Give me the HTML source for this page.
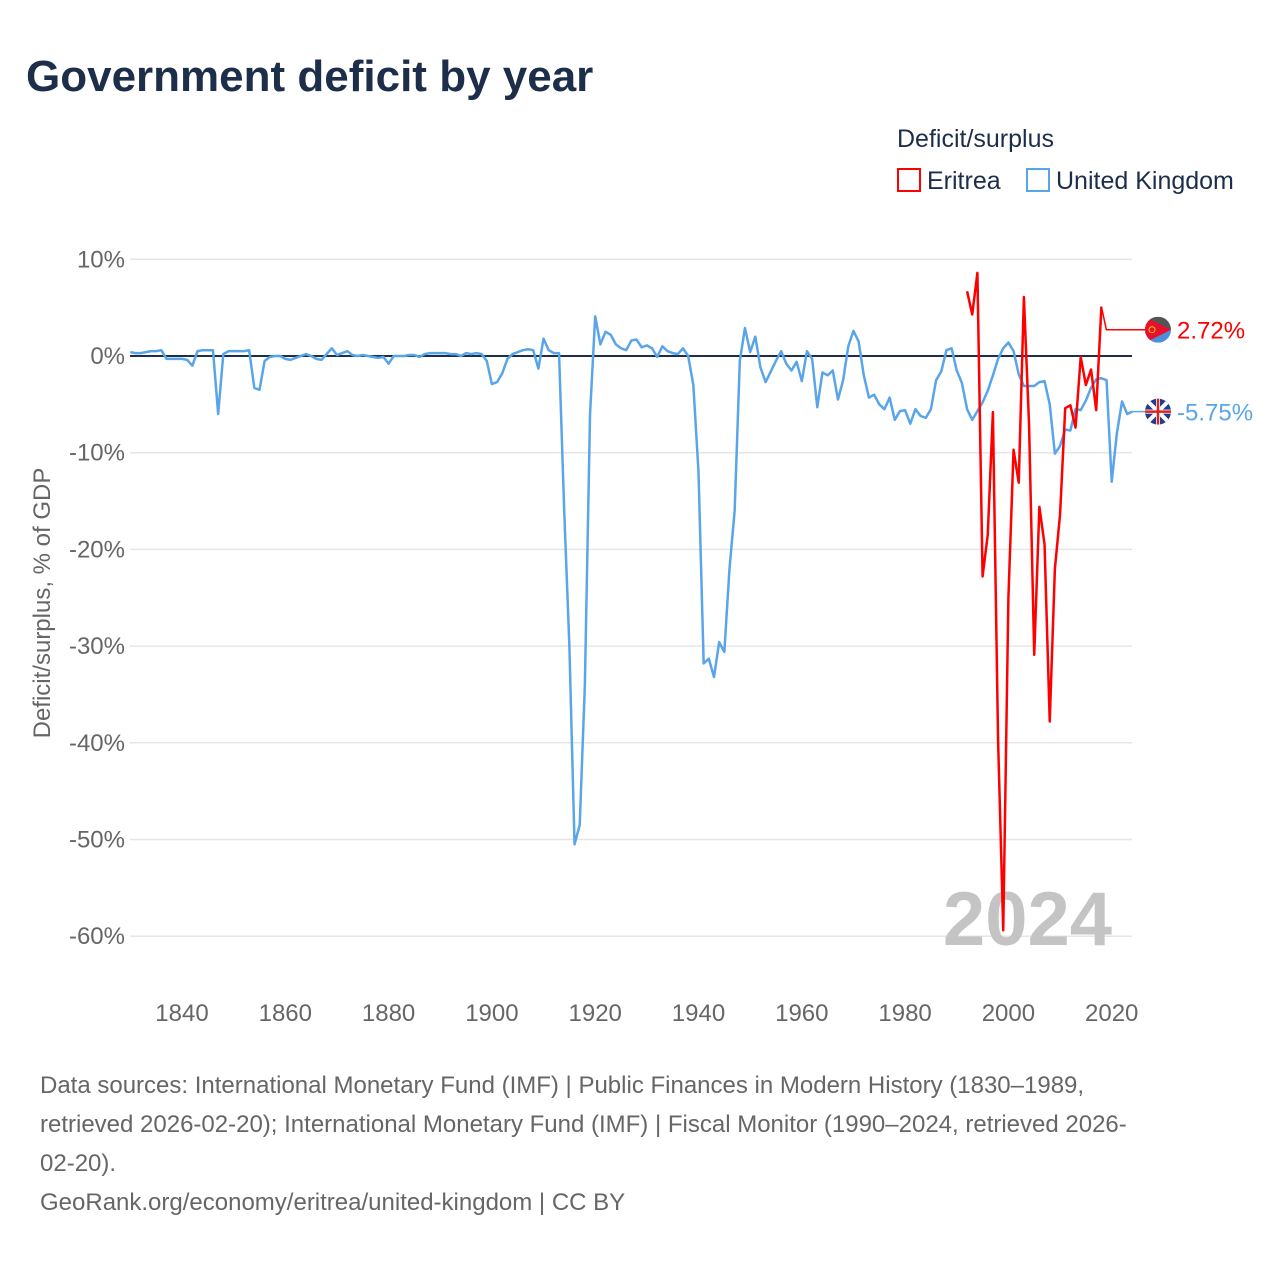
<!DOCTYPE html>
<html><head><meta charset="utf-8"><style>
body{margin:0;background:#fff;font-family:"Liberation Sans",sans-serif;}
#wrap{position:relative;width:1280px;height:1280px;overflow:hidden;}
.t{position:absolute;white-space:nowrap;}
</style></head><body>
<div id="wrap">
<div class="t" style="left:26px;top:52px;font-size:44px;font-weight:bold;color:#1d2e4a;">Government deficit by year</div>
<div class="t" style="left:897px;top:125px;font-size:25px;color:#1d2e4a;">Deficit/surplus</div>
<div class="t" style="left:897px;top:167px;font-size:25px;color:#1d2e4a;"><span style="display:inline-block;border:2px solid #f00;vertical-align:-3px;margin-right:6px;box-sizing:border-box;width:24px;height:24px"></span>Eritrea</div>
<div class="t" style="left:1026px;top:167px;font-size:25px;color:#1d2e4a;"><span style="display:inline-block;border:2px solid #5aa5ea;vertical-align:-3px;margin-right:6px;box-sizing:border-box;width:24px;height:24px"></span>United Kingdom</div>
<svg id="chart" width="1280" height="1280" style="position:absolute;left:0;top:0"></svg>
<div class="t" style="left:40px;top:1066px;font-size:24px;line-height:39px;color:#666;">Data sources: International Monetary Fund (IMF) | Public Finances in Modern History (1830–1989,<br>retrieved 2026-02-20); International Monetary Fund (IMF) | Fiscal Monitor (1990–2024, retrieved 2026-<br>02-20).<br>GeoRank.org/economy/eritrea/united-kingdom | CC BY</div>
</div>
<script>
const ukStart = 1830;
const ukValues = [0.4,0.3,0.3,0.4,0.5,0.5,0.6,-0.3,-0.3,-0.3,-0.3,-0.4,-1.0,0.5,0.6,0.6,0.6,-6.0,0.2,0.5,0.5,0.5,0.5,0.6,-3.3,-3.5,-0.5,-0.1,0,0,-0.3,-0.4,-0.2,0,0.2,0,-0.3,-0.4,0.2,0.8,0.1,0.3,0.5,0.1,0,0.1,0,-0.1,-0.2,-0.1,-0.8,0,0,0,0.1,0.1,-0.1,0.2,0.3,0.3,0.3,0.3,0.2,0.2,0,0.3,0.2,0.3,0.2,-0.5,-2.9,-2.7,-1.8,-0.3,0.2,0.4,0.6,0.7,0.6,-1.3,1.8,0.6,0.3,0.3,-16,-30,-50.5,-48.5,-34,-6,4.1,1.2,2.5,2.2,1.2,0.8,0.6,1.6,1.7,0.9,1.1,0.8,-0.1,1.0,0.5,0.3,0.2,0.8,0,-3,-12,-31.8,-31.3,-33.2,-29.6,-30.6,-22,-16,-0.5,2.9,0.4,2,-1.2,-2.7,-1.6,-0.5,0.5,-0.8,-1.5,-0.6,-2.6,0.5,-0.3,-5.3,-1.7,-2,-1.5,-4.5,-2.5,1,2.6,1.5,-2,-4.3,-4,-5,-5.5,-4.3,-6.6,-5.7,-5.6,-7,-5.5,-6.2,-6.4,-5.5,-2.5,-1.6,0.6,0.8,-1.5,-2.8,-5.5,-6.6,-5.7,-4.8,-3.6,-2,-0.3,0.8,1.4,0.5,-1.9,-3.1,-3.1,-3.1,-2.7,-2.6,-5,-10.1,-9.3,-7.6,-7.7,-5.5,-5.6,-4.6,-3.3,-2.4,-2.3,-2.5,-13,-8,-4.7,-6,-5.75];
const erStart = 1992;
const erValues = [6.7,4.3,8.6,-22.8,-18.5,-5.8,-39.7,-59.4,-25,-9.7,-13.1,6.1,-7.1,-30.9,-15.6,-19.5,-37.8,-22,-16.4,-5.4,-5.1,-7.4,-0.1,-3,-1.4,-5.6,5.1,2.72];
const yTicks = [10,0,-10,-20,-30,-40,-50,-60];
const xTicks = [1840,1860,1880,1900,1920,1940,1960,1980,2000,2020];
const ukLast = "-5.75%", erLast = "2.72%";

const svg=document.getElementById('chart');const NS='http://www.w3.org/2000/svg';
const X0=130,X1=1132,Y0=356,PY=9.67;
const xs=y=>182+(y-1840)*5.165;
const ys=v=>Y0-v*PY;
function mk(t,a,p){const e=document.createElementNS(NS,t);for(const k in a)e.setAttribute(k,a[k]);(p||svg).appendChild(e);return e;}
yTicks.forEach(v=>{
 const l=mk('line',{x1:X0,x2:X1,y1:ys(v),y2:ys(v),stroke:v===0?'#1d2e4a':'#e6e6e6','stroke-width':v===0?2:1.5});
 
 
 const t=mk('text',{x:125,y:ys(v)+8,'text-anchor':'end','font-size':24,fill:'#666','font-family':'Liberation Sans, sans-serif'});
 t.textContent=v+'%';
 
 
});
xTicks.forEach(y=>{
 const t=mk('text',{x:xs(y),y:1021,'text-anchor':'middle','font-size':24,fill:'#666','font-family':'Liberation Sans, sans-serif'});
 t.textContent=y;
 
 
});
const yt=mk('text',{x:0,y:0,transform:'translate(50,603) rotate(-90)','text-anchor':'middle','font-size':24,fill:'#666','font-family':'Liberation Sans, sans-serif'});
yt.textContent='Deficit/surplus, % of GDP';


const yr=mk('text',{x:1112,y:945,'text-anchor':'end','font-size':76,'font-weight':'bold',fill:'#c4c4c4','font-family':'Liberation Sans, sans-serif'});
yr.textContent='2024';


const ukP=mk('polyline',{points:ukValues.map((v,i)=>xs(ukStart+i)+','+ys(v)).join(' '),fill:'none',stroke:'#5aa5ea','stroke-width':2.5,'stroke-linejoin':'round'});


const erMain=erValues.slice(0,erValues.length-1);
const erP=mk('polyline',{points:erMain.map((v,i)=>xs(erStart+i)+','+ys(v)).join(' '),fill:'none',stroke:'#f00','stroke-width':2.5,'stroke-linejoin':'round'});


const lastEr=erMain[erMain.length-1],lastYr=erStart+erMain.length-1,erEnd=erValues[erValues.length-1];
const c1=mk('polyline',{points:`${xs(lastYr)},${ys(lastEr)} ${xs(lastYr)+5},${ys(erEnd)} 1146,${ys(erEnd)}`,fill:'none',stroke:'#f00','stroke-width':1.5});


const ukEnd=ukValues[ukValues.length-1];
const c2=mk('line',{x1:xs(2024),x2:1146,y1:ys(ukEnd),y2:ys(ukEnd),stroke:'#5aa5ea','stroke-width':1.5});


// flags
const ey=ys(erEnd), uy=ys(ukEnd);
const defs=mk('defs',{});
const cp=mk('clipPath',{id:'ercp'},defs);
mk('circle',{cx:1158,cy:ey,r:13},cp);
const g1=mk('g',{'clip-path':'url(#ercp)'});


mk('rect',{x:1145,y:ey-13,width:26,height:13,fill:'#555'},g1);
mk('rect',{x:1145,y:ey,width:26,height:13,fill:'#4a8fd8'},g1);
mk('path',{d:`M1145,${ey-13} L1171,${ey} L1145,${ey+13} Z`,fill:'#e8112d'},g1);
mk('circle',{cx:1152,cy:ey,r:3,fill:'none',stroke:'#fc0','stroke-width':1},g1);
const cp2=mk('clipPath',{id:'ukcp'},defs);
mk('circle',{cx:1158,cy:uy,r:13},cp2);
const g2=mk('g',{'clip-path':'url(#ukcp)'});


mk('rect',{x:1145,y:uy-13,width:26,height:26,fill:'#243c8c'},g2);
mk('path',{d:`M1145,${uy-13} L1171,${uy+13} M1171,${uy-13} L1145,${uy+13} M1145,${uy} L1171,${uy} M1158,${uy-13} L1158,${uy+13}`,stroke:'#fff','stroke-width':4},g2);
mk('path',{d:`M1145,${uy} L1171,${uy} M1158,${uy-13} L1158,${uy+13}`,stroke:'#d22','stroke-width':2.5},g2);
const l1=mk('text',{x:1177,y:ey+9,'font-size':24,fill:'#f00','font-family':'Liberation Sans, sans-serif'});
l1.textContent=erLast;


const l2=mk('text',{x:1177,y:uy+9,'font-size':24,fill:'#5aa5ea','font-family':'Liberation Sans, sans-serif'});
l2.textContent=ukLast;


</script>
</body></html>
